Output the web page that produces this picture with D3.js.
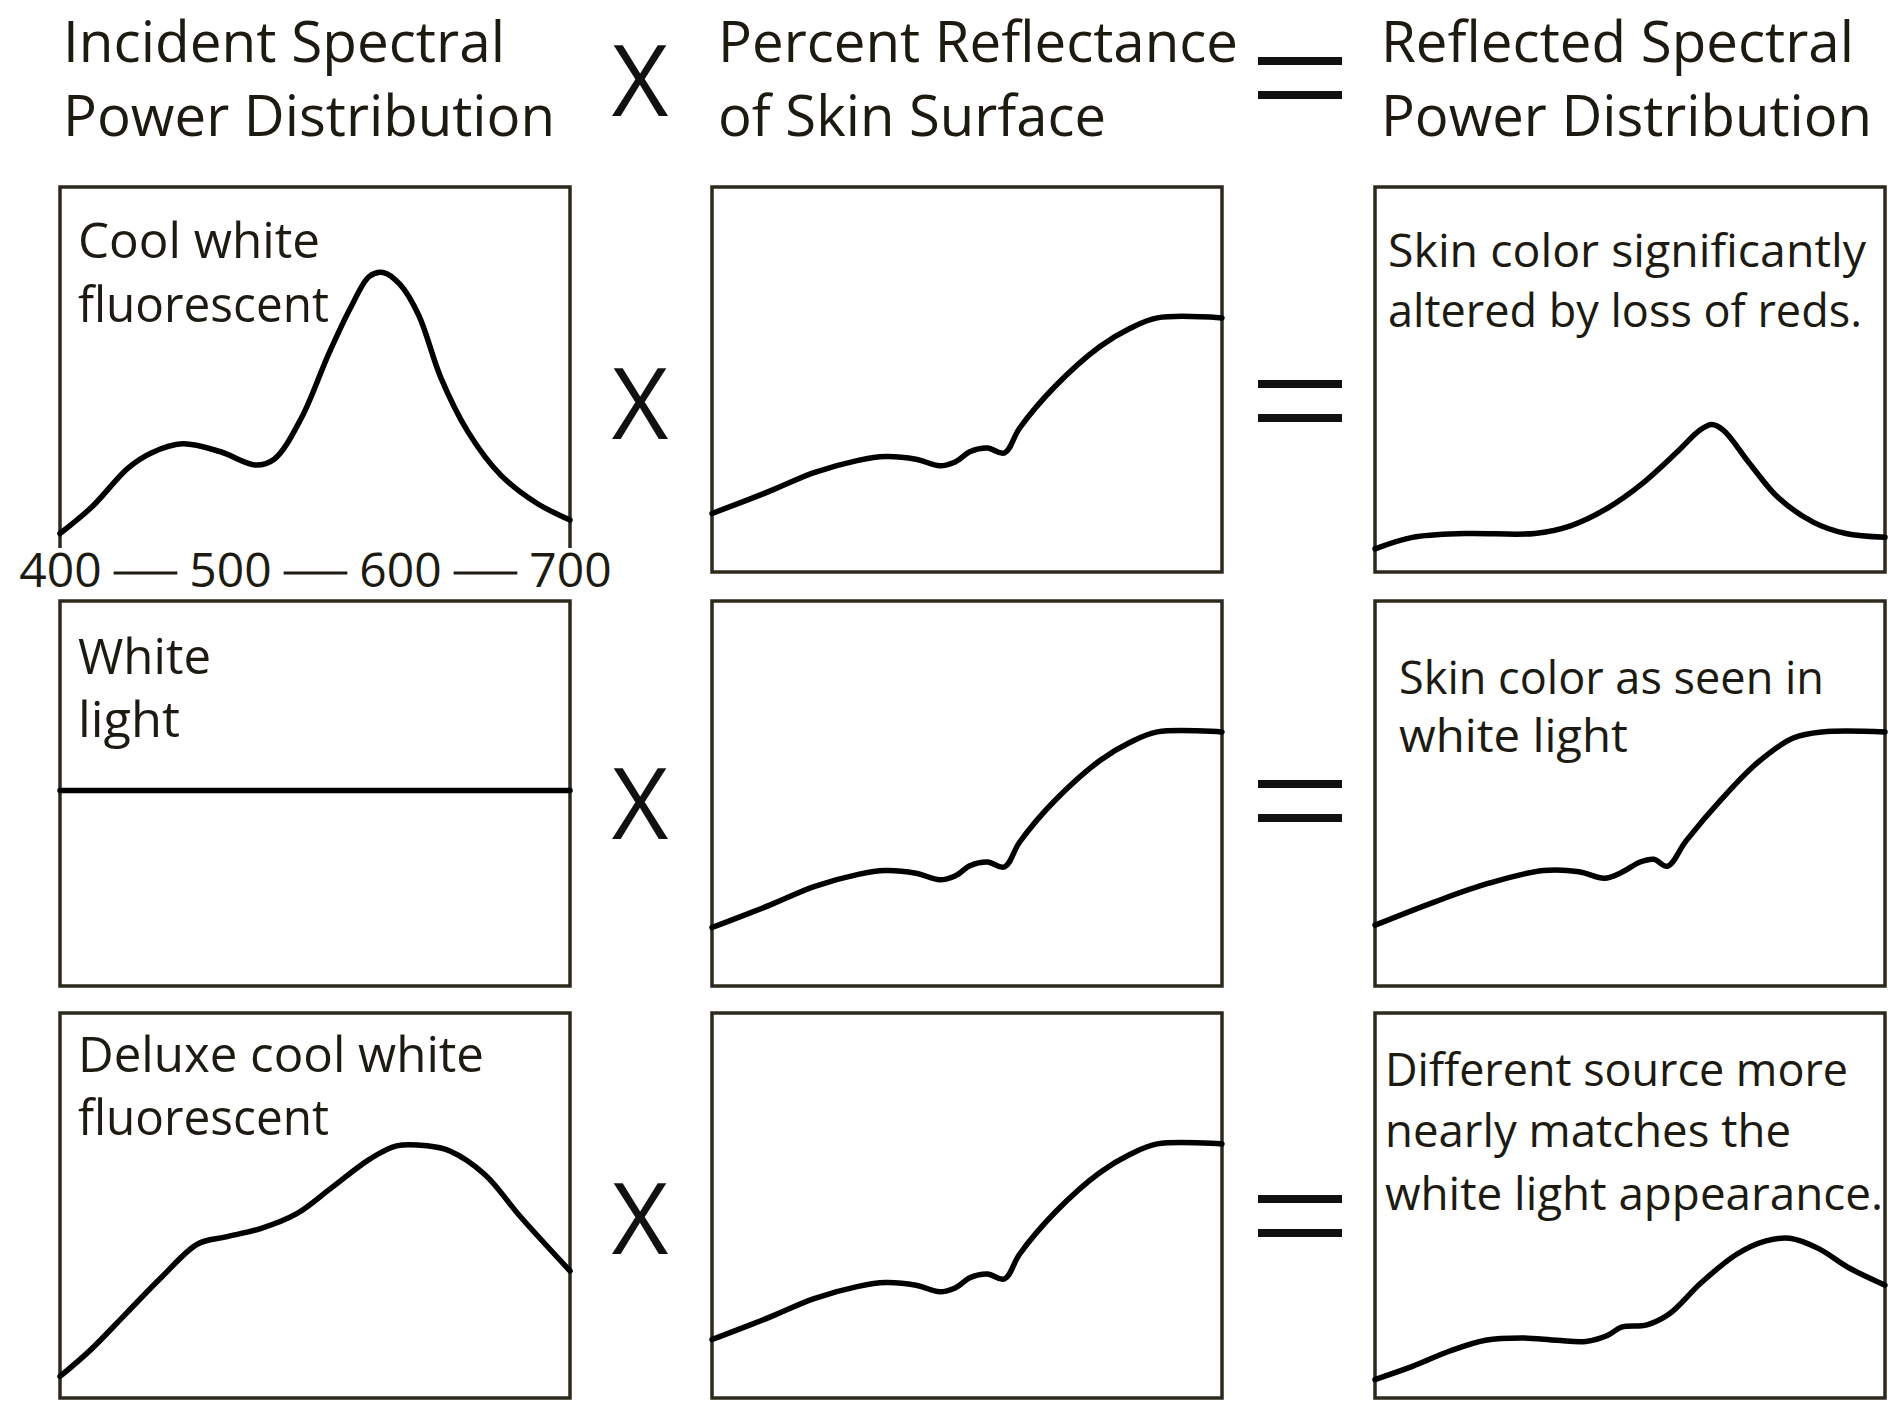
<!DOCTYPE html>
<html><head><meta charset="utf-8">
<script src="https://cdn.jsdelivr.net/npm/d3@7"></script>
<style>html,body{margin:0;padding:0;background:#fff;} svg{display:block}</style>
</head><body>
<svg id="chart" width="1888" height="1402"></svg>
<script>
// ---------- data ----------
const wavelengthTicks = [400, 500, 600, 700];

const headerLines = [
  ["Incident Spectral", "Power Distribution"],
  ["Percent Reflectance", "of Skin Surface"],
  ["Reflected Spectral", "Power Distribution"]
];
const sourceLabels = [
  ["Cool white", "fluorescent"],
  ["White", "light"],
  ["Deluxe cool white", "fluorescent"]
];
const resultLabels = [
  ["Skin color significantly", "altered by loss of reds."],
  ["Skin color as seen in", "white light"],
  ["Different source more", "nearly matches the", "white light appearance."]
];

// incident spectral power (relative, 0..1 of panel height)
const coolWhiteNm    = [400,419,440,454,472,494,515,526,542,558,571,582,590,600,611,624,640,659,680,700];
const coolWhitePower = [0.10,0.17,0.27,0.31,0.333,0.313,0.278,0.293,0.40,0.566,0.687,0.768,0.778,0.747,0.667,0.505,0.364,0.253,0.18,0.135];
const whiteLightNm    = [400,700];
const whiteLightPower = [0.508,0.508];
const deluxeNm    = [400,418,439,460,481,497,518,539,560,582,598,616,629,650,671,700];
const deluxePower = [0.056,0.125,0.22,0.315,0.40,0.418,0.44,0.478,0.547,0.62,0.655,0.655,0.642,0.58,0.47,0.33];

// skin reflectance
const skinNm          = [400,434,460,486,502,520,534,543,552,562,572,581,602,628,646,662,700];
const skinReflectance = [0.152,0.21,0.258,0.29,0.30,0.293,0.276,0.286,0.313,0.322,0.309,0.374,0.483,0.585,0.633,0.66,0.66];

// reflected spectral power
const resultCoolNm = [400,422,453,494,515,536,557,578,591,598,605,620,637,658,677,700];
const resultCool   = [0.06,0.09,0.10,0.10,0.12,0.164,0.229,0.313,0.368,0.383,0.368,0.284,0.194,0.129,0.10,0.09];
const resultWhiteNm = [400,436,467,499,520,535,545,556,564,572,583,604,625,646,663,700];
const resultWhite   = [0.158,0.22,0.267,0.30,0.297,0.28,0.295,0.322,0.329,0.311,0.377,0.486,0.58,0.644,0.66,0.66];
const resultDeluxeNm = [400,422,444,465,486,507,524,537,545,560,573,592,613,630,644,661,678,700];
const resultDeluxe   = [0.048,0.082,0.122,0.15,0.156,0.15,0.147,0.163,0.184,0.19,0.218,0.30,0.374,0.408,0.415,0.388,0.34,0.293];

// ---------- layout ----------
const colX = [60, 712, 1375];
const rowY = [187, 601, 1013];
const panelW = 510, panelH = 385;
const ink = "#1d1a12";
const boxInk = "#2e291d";
const font = "'Open Sans', 'Noto Sans', sans-serif";

const zip = (xs, ys) => xs.map((x, i) => [x, ys[i]]);
const grid = [
  [zip(coolWhiteNm, coolWhitePower),   zip(skinNm, skinReflectance), zip(resultCoolNm, resultCool)],
  [zip(whiteLightNm, whiteLightPower), zip(skinNm, skinReflectance), zip(resultWhiteNm, resultWhite)],
  [zip(deluxeNm, deluxePower),         zip(skinNm, skinReflectance), zip(resultDeluxeNm, resultDeluxe)]
];

const svg = d3.select("#chart");
svg.append("rect").attr("width", 1888).attr("height", 1402).attr("fill", "#fff");

function fitText(sel, w) {
  sel.attr("textLength", w).attr("lengthAdjust", "spacingAndGlyphs");
  return sel;
}

// headers
const headerWidths = [[442, 492], [520, 388], [473, 491]];
const headerBase = [62, 136];
headerLines.forEach((lines, c) => {
  lines.forEach((t, i) => {
    fitText(svg.append("text")
      .attr("x", colX[c] + 3 + (c === 0 ? 0 : 3))
      .attr("y", headerBase[i])
      .attr("font-family", font).attr("font-size", 56)
      .attr("fill", ink).text(t), headerWidths[c][i]);
  });
});

// operators
const opY = [78, 401, 801, 1216];
opY.forEach(cy => {
  svg.append("text").attr("x", 640).attr("y", cy)
    .attr("text-anchor", "middle").attr("dominant-baseline", "central")
    .attr("font-family", font).attr("font-size", 98).attr("fill", "#111").text("X");
  [-17, 17].forEach(dy => {
    svg.append("line").attr("x1", 1258).attr("x2", 1342)
      .attr("y1", cy + dy).attr("y2", cy + dy)
      .attr("stroke", "#111").attr("stroke-width", 8);
  });
});

// panels
const line = d3.line().curve(d3.curveCatmullRom.alpha(0.5));
grid.forEach((row, r) => {
  row.forEach((series, c) => {
    const x0 = colX[c], y0 = rowY[r];
    const x = d3.scaleLinear().domain([400, 700]).range([x0, x0 + panelW]);
    const y = d3.scaleLinear().domain([0, 1]).range([y0 + panelH, y0]);
    const g = svg.append("g");
    if (r === 0 && c === 0) {
      // open box: top + sides only, wavelength scale forms the bottom
      g.append("path")
        .attr("d", `M${x(400)},${y0 + panelH - 24} V${y0} H${x(700)} V${y0 + panelH - 24}`)
        .attr("fill", "none").attr("stroke", boxInk).attr("stroke-width", 3.5);
    } else {
      g.append("rect").attr("x", x0).attr("y", y0).attr("width", panelW).attr("height", panelH)
        .attr("fill", "none").attr("stroke", boxInk).attr("stroke-width", 3.5);
    }
    line.x(d => x(d[0])).y(d => y(d[1]));
    g.append("path").datum(series).attr("d", line)
      .attr("fill", "none").attr("stroke", "#000").attr("stroke-width", 5.5)
      .attr("stroke-linejoin", "round").attr("stroke-linecap", "round");

    if (r === 0 && c === 0) {
      const ax = svg.append("g").attr("transform", `translate(0,${y0 + panelH - 2})`)
        .call(d3.axisBottom(x).tickValues(wavelengthTicks).tickSize(0).tickPadding(0).tickFormat(d3.format("d")));
      ax.select(".domain").remove();
      ax.attr("font-family", font).attr("font-size", 48);
      ax.selectAll("text").attr("y", 0).attr("dy", "0.36em").attr("fill", ink);
      const boxes = ax.selectAll("text").nodes().map(n => {
        const b = n.getBBox();
        const t = n.parentNode.transform.baseVal.consolidate().matrix.e;
        return { l: t + b.x, r: t + b.x + b.width };
      });
      for (let i = 0; i < boxes.length - 1; i++) {
        svg.append("line")
          .attr("x1", boxes[i].r + 12).attr("x2", boxes[i + 1].l - 12)
          .attr("y1", y0 + panelH + 1).attr("y2", y0 + panelH + 1)
          .attr("stroke", ink).attr("stroke-width", 3);
      }
    }
  });
});

// panel labels – source column
const srcBase = [[258, 322], [674, 737], [1072, 1135]];
const srcWidths = [[242, 251], [133, 102], [406, 251]];
sourceLabels.forEach((lines, r) => {
  lines.forEach((t, i) => {
    fitText(svg.append("text").attr("x", 78).attr("y", srcBase[r][i])
      .attr("font-family", font).attr("font-size", 50).attr("fill", ink).text(t), srcWidths[r][i]);
  });
});

// panel labels – result column
const resX = [1388, 1399, 1385];
const resBase = [[267, 327], [694, 752], [1086, 1147, 1210]];
const resWidths = [[478, 474], [425, 229], [463, 406, 498]];
resultLabels.forEach((lines, r) => {
  lines.forEach((t, i) => {
    fitText(svg.append("text").attr("x", resX[r]).attr("y", resBase[r][i])
      .attr("font-family", font).attr("font-size", 46).attr("fill", ink).text(t), resWidths[r][i]);
  });
});
</script>
</body></html>
